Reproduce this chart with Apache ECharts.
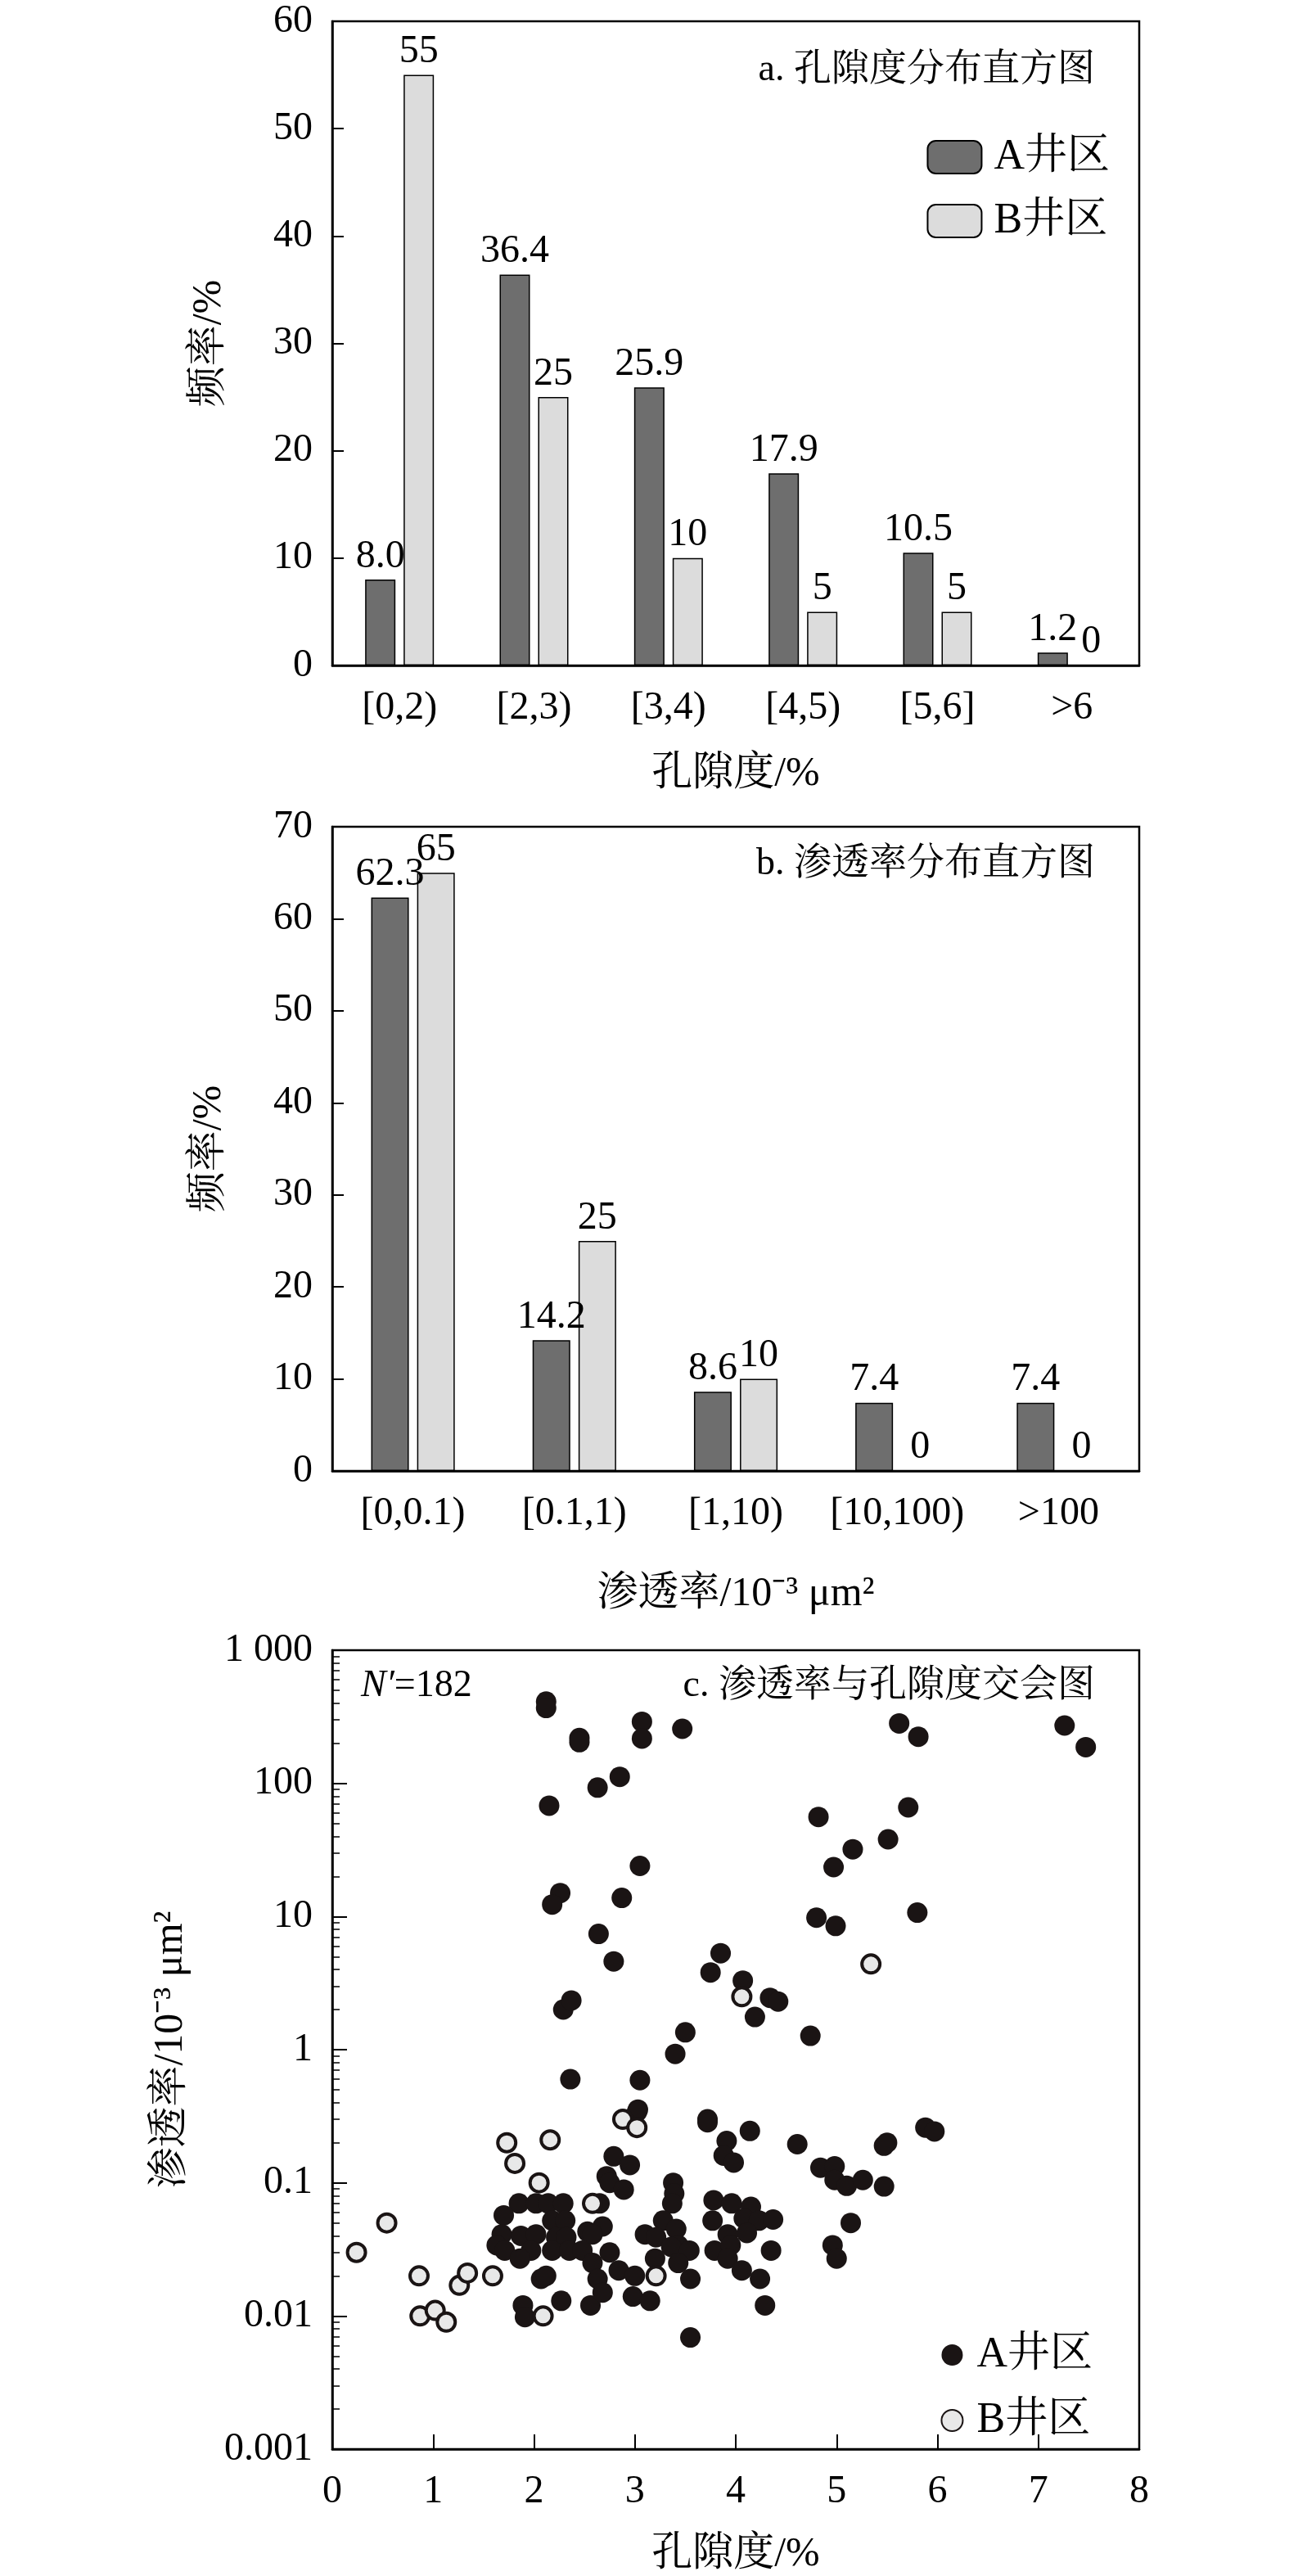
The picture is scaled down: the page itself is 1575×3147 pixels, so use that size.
<!DOCTYPE html>
<html><head><meta charset="utf-8">
<script src="https://cdn.jsdelivr.net/npm/echarts@6/dist/echarts.min.js"></script>
<style>html,body{margin:0;padding:0;background:#fff}#c{width:1575px;height:3147px}</style>
</head><body><div id="c"></div>
<script>
const poroCats = ['[0,2)','[2,3)','[3,4)','[4,5)','[5,6]','>6'];
const poroA = [8.0,36.4,25.9,17.9,10.5,1.2];
const poroB = [55,25,10,5,5,0];
const permCats = ['[0,0.1)','[0.1,1)','[1,10)','[10,100)','>100'];
const permA = [62.3,14.2,8.6,7.4,7.4];
const permB = [65,25,10,0,0];
const scatterA = [
[2.12,411],[2.12,368],[2.45,219],[2.45,204],[3.07,290],[3.07,217],[3.47,257],[5.62,282],[5.81,224],[7.26,272],[7.47,187],
[2.63,93],[2.85,112],[2.15,68],[4.82,56],[5.71,66],[5.51,38],[5.16,32],[4.97,23.5],[3.05,24],[2.26,15],[2.18,12.3],[2.87,13.8],
[5.80,10.7],[4.80,9.8],[4.99,8.5],[2.64,7.4],[2.79,4.6],[3.85,5.3],[3.75,3.8],[4.07,3.3],[4.34,2.45],[4.42,2.3],[4.19,1.76],
[2.29,2.0],[2.37,2.34],[3.50,1.35],[4.74,1.27],[3.40,0.93],[2.36,0.6],[3.05,0.59],[3.03,0.355],[3.02,0.34],[3.72,0.30],[3.72,0.285],
[4.14,0.245],[3.91,0.206],[4.61,0.195],[5.50,0.2],[5.47,0.19],[5.88,0.26],[5.97,0.243],[2.79,0.158],[2.95,0.136],[3.88,0.16],[3.98,0.142],
[4.84,0.13],[4.98,0.133],[4.98,0.105],[5.10,0.095],[5.26,0.105],[5.47,0.094],[2.72,0.112],[2.75,0.1],[2.89,0.089],
[3.38,0.1],[3.39,0.083],[3.37,0.07],[1.85,0.07],[2.02,0.07],[2.14,0.07],[2.29,0.07],[1.70,0.057],[3.78,0.074],[3.96,0.07],[4.15,0.066],[2.65,0.07],
[2.18,0.052],[2.31,0.052],[2.68,0.047],[2.53,0.043],[3.28,0.052],[3.41,0.045],[3.77,0.052],[4.08,0.054],[4.23,0.052],[4.37,0.053],
[1.68,0.041],[1.87,0.040],[2.02,0.041],[2.22,0.039],[2.32,0.039],[2.58,0.041],[3.10,0.041],[3.21,0.039],[3.43,0.034],[3.92,0.041],[4.11,0.042],
[1.63,0.034],[1.71,0.031],[1.97,0.031],[2.18,0.031],[2.35,0.031],[2.48,0.031],[2.75,0.030],[3.36,0.033],[3.54,0.031],[3.79,0.031],[3.95,0.034],[4.35,0.031],[4.96,0.034],
[1.86,0.027],[2.58,0.025],[2.84,0.022],[3.20,0.027],[3.43,0.025],[3.92,0.027],[5.00,0.027],
[2.07,0.019],[2.12,0.020],[2.63,0.019],[3.00,0.020],[3.55,0.019],[4.06,0.022],[4.24,0.019],
[2.27,0.013],[2.56,0.012],[2.68,0.015],[2.98,0.014],[3.15,0.013],[4.29,0.012],[1.89,0.012],[1.91,0.0098],
[5.14,0.050],[3.55,0.0069]
];
const scatterB = [
[0.24,0.030],[0.54,0.050],[0.86,0.020],[0.87,0.010],[1.02,0.011],[1.13,0.009],[1.26,0.017],[1.34,0.021],[1.59,0.020],
[1.73,0.20],[1.81,0.14],[2.16,0.21],[2.05,0.10],[2.09,0.010],[2.58,0.07],[2.88,0.30],[3.02,0.26],[3.21,0.020],[4.06,2.5],[5.34,4.4]
];

const F = "'Liberation Serif','Noto Serif CJK SC','Noto Sans CJK SC',serif";
const FS = 48;
const colA = '#6e6e6e', colB = '#dcdcdc';
const chart = echarts.init(document.getElementById('c'));
const grids = [
  {left:406, top:26, width:986, height:787},
  {left:406, top:1010, width:986, height:787},
  {left:406, top:2016, width:986, height:982}
];
grids.forEach(g=>{g.show=true;g.borderColor='#000';g.borderWidth=2.5;g.backgroundColor='transparent';});
const tickStyle = {fontFamily:F,fontSize:FS,color:'#000'};
const nameStyle = {fontFamily:F,fontSize:50,color:'#000'};
function barX(i,cats,name,gap){return {type:'category',gridIndex:i,data:cats,
  axisLine:{lineStyle:{color:'#000',width:2.5}},axisTick:{inside:true,alignWithLabel:true,length:14,lineStyle:{color:'#000',width:2}},
  axisLabel:Object.assign({margin:28,interval:0},tickStyle),name:name,nameLocation:'middle',nameGap:gap,nameTextStyle:nameStyle};}
function barY(i,max){return {type:'value',gridIndex:i,min:0,max:max,interval:10,
  axisLine:{show:true,lineStyle:{color:'#000',width:2.5}},axisTick:{show:true,inside:true,length:14,lineStyle:{color:'#000',width:2}},
  splitLine:{show:false},axisLabel:Object.assign({margin:24},tickStyle),
  name:'频率/%',nameLocation:'middle',nameGap:125,nameTextStyle:nameStyle};}
const lbl = {show:true,position:'top',distance:4,fontFamily:F,fontSize:FS,color:'#000'};
function bar(name,i,data,col,w,gap,fmt){return {type:'bar',name:name,xAxisIndex:i,yAxisIndex:i,data:data,barWidth:w,barGap:gap,
  itemStyle:{color:col,borderColor:'#000',borderWidth:1.5},label:Object.assign({formatter:fmt},lbl)};}
const fmtA = p=>p.value.toFixed(1);
const fmtB = p=>String(p.value);
const tt = {fontFamily:F,fontSize:46,fontWeight:'normal',color:'#000'};
const opt = {
  animation:false,
  grid:grids,
  title:[
    {text:'a. 孔隙度分布直方图',right:232,top:58,textStyle:tt},
    {text:'b. 渗透率分布直方图',right:232,top:1028,textStyle:tt},
    {text:'c. 渗透率与孔隙度交会图',right:232,top:2032,textStyle:tt},
    {text:'{i|N′}=182',left:436,top:2032,textStyle:Object.assign({rich:{i:{fontFamily:F,fontSize:46,fontStyle:'italic'}}},tt)}
  ],
  legend:[
    {data:['A井区','B井区'],right:214,top:161,orient:'vertical',itemWidth:66,itemHeight:40,itemGap:26,
     textStyle:{fontFamily:F,fontSize:52,color:'#000',padding:[0,0,0,10]}},
    {data:['A井区 ','B井区 '],right:222,top:2846,orient:'vertical',itemWidth:26,itemHeight:26,itemGap:28,
     textStyle:{fontFamily:F,fontSize:52,color:'#000',padding:[0,0,0,12]}}
  ],
  xAxis:[
    barX(0,poroCats,'孔隙度/%',108),
    barX(1,permCats,'渗透率/10⁻³ μm²',126),
    {type:'value',gridIndex:2,min:0,max:8,interval:1,
     axisLine:{onZero:false,lineStyle:{color:'#000',width:2.5}},axisTick:{inside:true,length:18,lineStyle:{color:'#000',width:2}},
     splitLine:{show:false},axisLabel:Object.assign({margin:28},tickStyle),
     name:'孔隙度/%',nameLocation:'middle',nameGap:104,nameTextStyle:nameStyle}
  ],
  yAxis:[
    barY(0,60), barY(1,70),
    {type:'log',gridIndex:2,logBase:10,min:0.001,max:1000,
     axisLine:{show:true,onZero:false,lineStyle:{color:'#000',width:2.5}},axisTick:{show:true,inside:true,length:18,lineStyle:{color:'#000',width:2}},
     minorTick:{show:true,splitNumber:9,length:9,lineStyle:{color:'#000',width:1.5}},
     splitLine:{show:false},
     axisLabel:Object.assign({margin:24,formatter:v=>v>=1000?'1 000':String(+v.toPrecision(3))},tickStyle),
     name:'渗透率/10⁻³ μm²',nameLocation:'middle',nameGap:172,nameTextStyle:nameStyle}
  ],
  series:[
    bar('A井区',0,poroA,colA,37,'27%',fmtA),
    bar('B井区',0,poroB,colB,37,'27%',fmtB),
    bar('A井区',1,permA,colA,46,'22%',fmtA),
    bar('B井区',1,permB,colB,46,'22%',fmtB),
    {type:'scatter',name:'A井区 ',xAxisIndex:2,yAxisIndex:2,data:scatterA,symbolSize:25,
     itemStyle:{color:'#1a1414',opacity:1}},
    {type:'scatter',name:'B井区 ',xAxisIndex:2,yAxisIndex:2,data:scatterB,symbolSize:22,
     itemStyle:{color:'#e8e8e8',borderColor:'#1a1414',borderWidth:4,opacity:1}}
  ]
};
chart.setOption(opt);
</script></body></html>
